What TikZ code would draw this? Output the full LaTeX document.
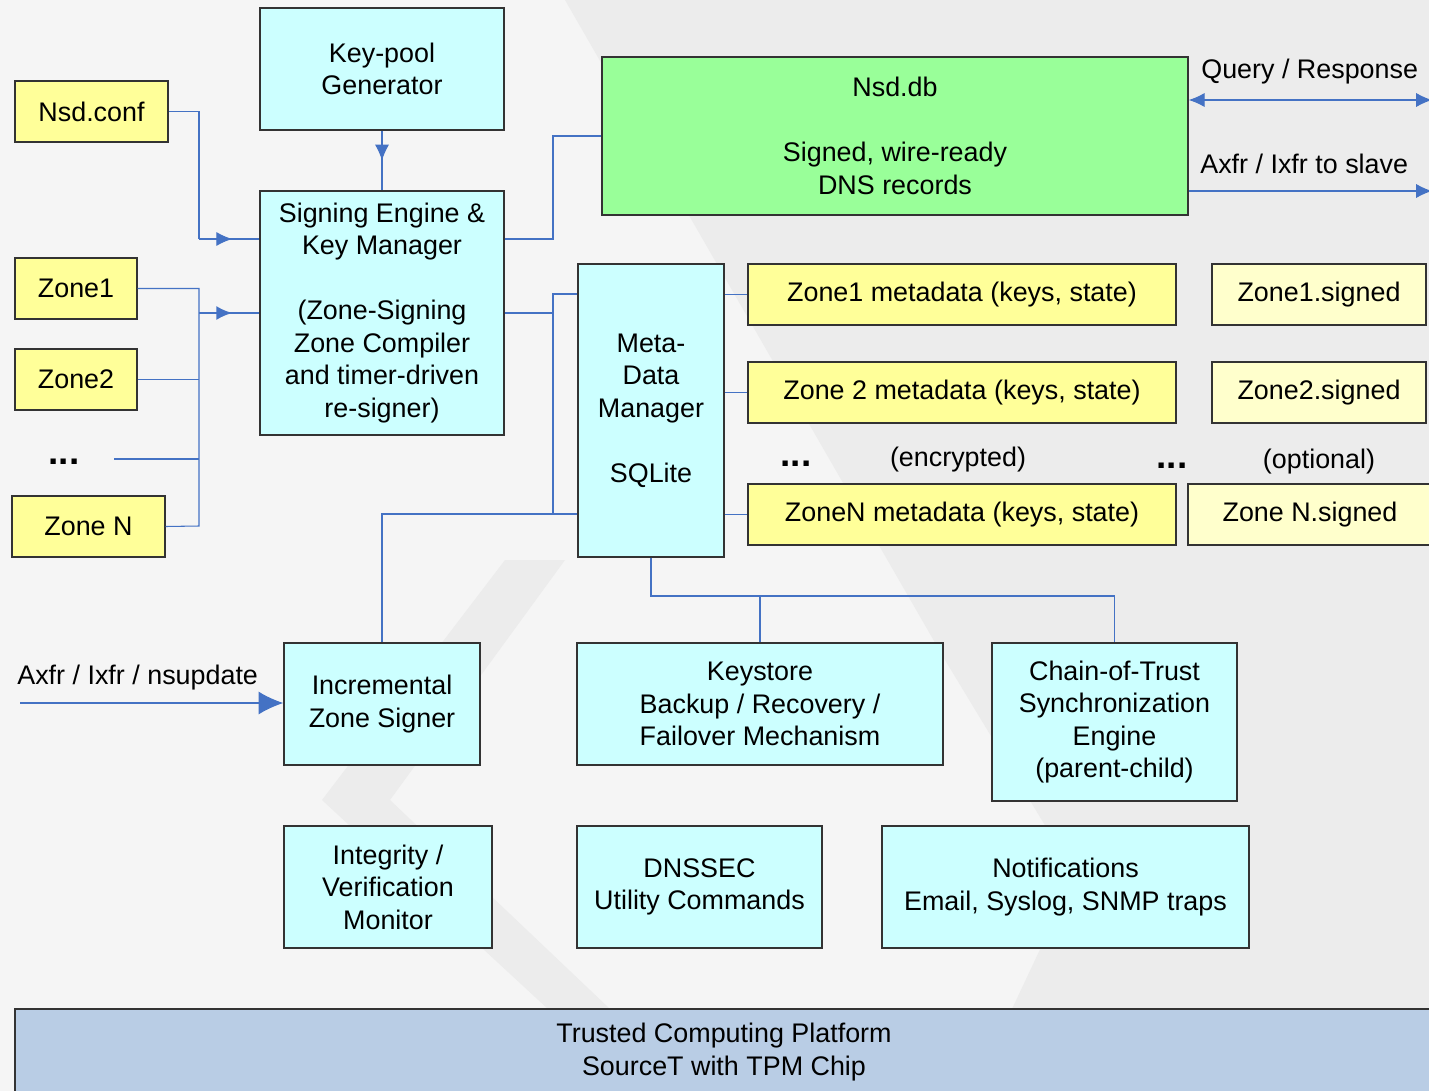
\documentclass[tikz,border=0pt]{standalone}
\usepackage{fontspec}
\setmainfont{Liberation Sans}
\usetikzlibrary{arrows.meta}
\usetikzlibrary{positioning}
\usetikzlibrary{decorations.markings}
\definecolor{bgpaper}{HTML}{F5F5F5}
\definecolor{bgshade}{HTML}{ECECEC}
\definecolor{boxline}{HTML}{333333}
\definecolor{boxcyan}{HTML}{CCFFFF}
\definecolor{zoneyellow}{HTML}{FFFF99}
\definecolor{signedyellow}{HTML}{FFFFCC}
\definecolor{dbgreen}{HTML}{99FF99}
\definecolor{platblue}{HTML}{B9CDE5}
\definecolor{linkblue}{HTML}{4472C4}
\tikzset{
    boxbase/.style={draw=boxline, line width=0.8pt, inner sep=0pt, align=center,
        font=\fontsize{15.3}{18.5}\selectfont},
    dims/.style 2 args={minimum width=#1*0.2mm, minimum height=#2*0.2mm},
    procbox/.style={boxbase, fill=boxcyan},
    zonebox/.style={boxbase, fill=zoneyellow},
    signedbox/.style={boxbase, fill=signedyellow},
    dbbox/.style={boxbase, fill=dbgreen},
    platbox/.style={boxbase, fill=platblue},
    plaintext/.style={inner sep=0pt, font=\fontsize{15.3}{18.5}\selectfont},
    dotstext/.style={inner sep=0pt, font=\fontsize{21}{21}\bfseries},
    link/.style={color=linkblue, line width=0.6pt},
    buslink/.style={color=linkblue, line width=1.2pt},
    tip/.style={-{Latex[length=9pt,width=8pt]}},
    midarrow/.style={postaction={decorate},
        decoration={markings,mark=at position #1 with {\arrow{Latex[length=9pt,width=8pt]}}}},
    midarrow/.default=0.55,
}

\begin{document}
\begin{tikzpicture}[x=0.2mm, y=-0.2mm]
	\useasboundingbox (0,0) rectangle (1429,1091);
	% background with faint watermark
	\fill[bgpaper] (0,0) rectangle (1429,1091);
	\fill[bgshade] (565,0) -- (1429,0) -- (1429,1009) -- (1012,1009) -- (1075,875) -- (945,660) -- cycle;
	\fill[bgshade] (505,560) -- (565,560) -- (390,800) -- (610,1009) -- (548,1009) -- (322,800) -- cycle;

	% left column
	\node[zonebox, dims={153}{61}] (nsdconf) at (91.5,111.5) {Nsd.conf};
	\node[zonebox, dims={122}{61}] (zone1) at (76,288.5) {Zone1};
	\node[zonebox, dims={122}{61}] (zone2) at (76,379.5) {Zone2};
	\node[dotstext] (dots1) at (64,462) {...};
	\node[zonebox, dims={153}{61}] (zoneN) at (88.5,526.5) {Zone N};

	% signing engine and key pool
	\node[procbox, dims={244}{122}] (keypool) at (382,69) {Key-pool\\Generator};
	\node[procbox, dims={244}{244}] (sign) at (382,313)
		{Signing Engine \&\\Key Manager\\[18.5pt](Zone-Signing\\Zone Compiler\\and timer-driven\\re-signer)};

	% database and metadata
	\node[dbbox, dims={586}{158}] (nsddb) at (895,136) {Nsd.db\\[18.5pt]Signed, wire-ready\\DNS records};
	\node[procbox, dims={146}{293}] (meta) at (651,410.5) {Meta-\\Data\\Manager\\[18.5pt]SQLite};
	\node[zonebox, dims={428}{61}] (meta1) at (962,294.5) {Zone1 metadata (keys, state)};
	\node[zonebox, dims={428}{61}] (meta2) at (962,392.5) {Zone 2 metadata (keys, state)};
	\node[zonebox, dims={428}{61}] (metaN) at (962,514.5) {ZoneN metadata (keys, state)};
	\node[signedbox, dims={214}{61}] (signed1) at (1319,294.5) {Zone1.signed};
	\node[signedbox, dims={214}{61}] (signed2) at (1319,392.5) {Zone2.signed};
	\node[signedbox, dims={244}{61}] (signedN) at (1310,514.5) {Zone N.signed};
	\node[dotstext] (dots2) at (796,464) {...};
	\node[plaintext] (encr) at (958,460) {(encrypted)};
	\node[dotstext] (dots3) at (1172,466) {...};
	\node[plaintext] (optl) at (1319,462) {(optional)};

	% lower modules
	\node[procbox, dims={196}{122}] (incr) at (382,704) {Incremental\\Zone Signer};
	\node[procbox, dims={366}{122}] (keystore) at (760,704) {Keystore\\Backup / Recovery /\\Failover Mechanism};
	\node[procbox, dims={245}{158}] (chain) at (1114.5,722) {Chain-of-Trust\\Synchronization\\Engine\\(parent-child)};
	\node[procbox, dims={208}{122}] (integ) at (388,887) {Integrity /\\Verification\\Monitor};
	\node[procbox, dims={245}{122}] (dnssec) at (699.5,887) {DNSSEC\\Utility Commands};
	\node[procbox, dims={367}{122}] (notif) at (1065.5,887) {Notifications\\Email, Syslog, SNMP traps};
	\node[platbox, dims={1418}{86}] (tcp) at (724,1052) {Trusted Computing Platform\\SourceT with TPM Chip};

	% outside texts
	\node[plaintext, anchor=west] (query) at (1201,72) {Query / Response};
	\node[plaintext, anchor=west] (slave) at (1200,164) {Axfr / Ixfr to slave};
	\node[plaintext, anchor=west] (nsupd) at (17,678) {Axfr / Ixfr / nsupdate};

	% junctions
	\coordinate (confbus) at (199,239);
	\coordinate (zonebus) at (199,313);
	\coordinate (zonebot) at (199,526);
	\coordinate (dotsend) at (114,459);
	\coordinate (dbturn) at (553,239);
	\coordinate (metatop) at (553,294);
	\coordinate (metabot) at (553,514);
	\coordinate (metarow) at (651,596);
	\coordinate (queryend) at (1432,100);
	\coordinate (slaveend) at (1432,191);
	\coordinate (updstart) at (20,703);

	% inputs to the signing engine
	\draw[link, midarrow=0.5] (keypool.south) -- (sign.north);
	\draw[link] (nsdconf.east) -| (confbus);
	\draw[link, midarrow] (confbus) -- (sign.west |- confbus);
	\draw[link] (zone1.east) -| (zonebot) -- (zoneN.east);
	\draw[link] (zone2.east) -- (zone2.east -| zonebot);
	\draw[link] (dotsend) -- (dotsend -| zonebot);
	\draw[buslink, midarrow] (zonebus) -- (sign.west |- zonebus);

	% signing engine to db and metadata manager
	\draw[link] (sign.east |- dbturn) -- (dbturn) |- (nsddb.west);
	\draw[buslink] (sign.east |- zonebus) -- (zonebus -| metatop);
	\draw[link] (meta.west |- metatop) -- (metatop) -- (metabot) -- (meta.west |- metabot);
	\draw[link] (meta.west |- metabot) -| (incr.north);
	\foreach \m in {meta1,meta2,metaN}
		\draw[link] (meta.east |- \m.west) -- (\m.west);
	\draw[link] (meta.south) -- (metarow) -| (chain.north);
	\draw[link] (keystore.north) -- (keystore.north |- metarow);

	% external traffic
	\draw[link, {Latex[length=9pt,width=8pt]}-{Latex[length=9pt,width=8pt]}] (nsddb.east |- queryend) -- (queryend);
	\draw[link, tip] (nsddb.east |- slaveend) -- (slaveend);
	\draw[link, -{Latex[length=14pt,width=13pt]}] (updstart) -- (incr.west |- updstart);
\end{tikzpicture}
\end{document}
